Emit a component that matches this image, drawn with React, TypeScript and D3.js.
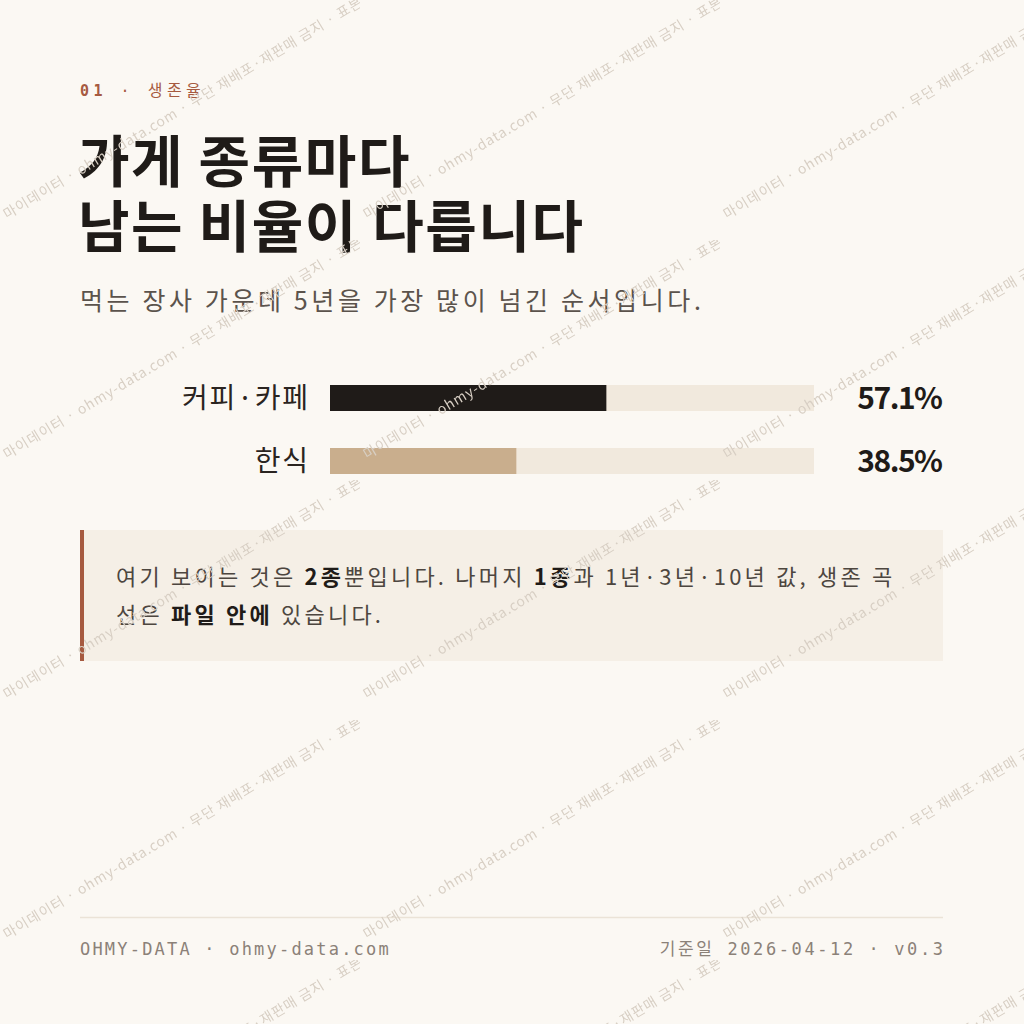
import React from "react";
import * as d3 from "d3";

// data
const categories = ["커피·카페", "한식"];
const survival5y = [57.1, 38.5];
const barColors = ["#1f1b18", "#c9ae8d"];
const valueLabels = ["57.1%", "38.5%"];

const W = 1024;
const H = 1024;
const SANS = "'Noto Sans CJK KR', 'Noto Sans', sans-serif";
const MONO = "'DejaVu Sans Mono', 'Noto Sans CJK KR', monospace";
const WM_TEXT = "· 마이데이터 · ohmy-data.com · 무단 재배포·재판매 금지 · 표본 데이터";

export default function App() {
  const x = d3.scaleLinear().domain([0, 100]).range([330, 814]);
  const y = d3.scalePoint().domain(categories).range([398, 461]);
  const barH = 26;
  const labelLs = 1.8;

  return (
    <svg
      width={W}
      height={H}
      viewBox={`0 0 ${W} ${H}`}
      style={{ position: "absolute", left: 0, top: 0, display: "block" }}
    >
      <defs>
        <pattern id="wm" width={360} height={240} patternUnits="userSpaceOnUse">
          <text
            transform="translate(-4,226) rotate(-31)"
            fontFamily={SANS}
            fontSize={14}
            letterSpacing={0.9}
            fill="#d8cfc4"
          >
            {WM_TEXT}
          </text>
        </pattern>
      </defs>
      <rect width={W} height={H} fill="#fbf8f3" />

      {/* header */}
      <text x={80} y={96} fontFamily={MONO} fontSize={15} fill="#a65a40" letterSpacing={4.5}>
        <tspan fontWeight={700}>01</tspan>
        <tspan> · </tspan>
        <tspan fontSize={16}>생존율</tspan>
      </text>
      <text fontFamily={SANS} fontWeight={700} fontSize={56} fill="#1f1b18" letterSpacing={1.6}>
        <tspan x={78} y={182}>가게 종류마다</tspan>
        <tspan x={78} y={247}>남는 비율이 다릅니다</tspan>
      </text>
      <text x={80} y={310} fontFamily={SANS} fontSize={25} fill="#5b534c" letterSpacing={3.6}>
        먹는 장사 가운데 5년을 가장 많이 넘긴 순서입니다.
      </text>

      {/* bars */}
      {categories.map((c, i) => (
        <g key={c}>
          <rect
            x={x(0)}
            y={y(c) - barH / 2}
            width={x(100) - x(0)}
            height={barH}
            fill="#f1e9dd"
          />
          <rect
            x={x(0)}
            y={y(c) - barH / 2}
            width={x(survival5y[i]) - x(0)}
            height={barH}
            fill={barColors[i]}
          />
          <text
            x={308 + labelLs}
            y={y(c)}
            dy="0.35em"
            textAnchor="end"
            fontFamily={SANS}
            fontSize={28}
            letterSpacing={labelLs}
            fill="#2a2420"
          >
            {c}
          </text>
          <text
            x={943 - 1.5}
            y={y(c)}
            dy="0.36em"
            textAnchor="end"
            fontFamily={SANS}
            fontWeight={700}
            fontSize={30}
            letterSpacing={-1.5}
            fill="#1f1b18"
          >
            {valueLabels[i]}
          </text>
        </g>
      ))}

      {/* note */}
      <rect x={80} y={530} width={863} height={131} fill="#f5efe6" />
      <rect x={80} y={530} width={4} height={131} fill="#a65a40" />
      <text fontFamily={SANS} fontSize={22} fill="#4d463f" letterSpacing={3.2}>
        <tspan x={116} y={585}>
          여기 보이는 것은 <tspan fontWeight={700} fill="#1f1b18">2종</tspan>뿐입니다. 나머지{" "}
          <tspan fontWeight={700} fill="#1f1b18">1종</tspan>과 1년·3년·10년 값, 생존 곡
        </tspan>
        <tspan x={116} y={623}>
          선은 <tspan fontWeight={700} fill="#1f1b18">파일 안에</tspan> 있습니다.
        </tspan>
      </text>

      {/* footer */}
      <line x1={80} x2={943} y1={917.5} y2={917.5} stroke="#ebe3d7" strokeWidth={1.5} />
      <text x={80} y={955} fontFamily={MONO} fontSize={17} fill="#8b8178" letterSpacing={2.2}>
        OHMY-DATA · ohmy-data.com
      </text>
      <text
        x={943 + 2.6}
        y={955}
        textAnchor="end"
        fontFamily={MONO}
        fontSize={17}
        fill="#8b8178"
        letterSpacing={2.6}
      >
        기준일 2026-04-12 · v0.3
      </text>

      {/* watermark on top */}
      <rect width={W} height={H} fill="url(#wm)" pointerEvents="none" />
    </svg>
  );
}
